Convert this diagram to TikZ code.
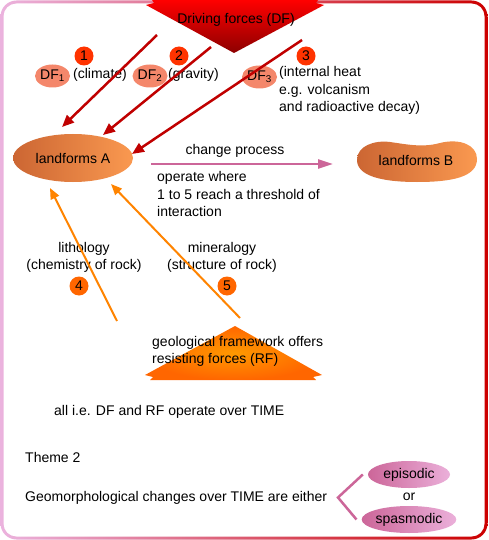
\documentclass[tikz,border=0pt]{standalone}
\usepackage{fontspec}
\setmainfont{Liberation Sans}
\usetikzlibrary{arrows.meta,shapes.geometric}

\definecolor{framepink}{HTML}{EBB3DE}
\definecolor{framered}{HTML}{CC0000}
\definecolor{dfred}{HTML}{C00000}
\definecolor{numred}{HTML}{FF3300}
\definecolor{numorange}{HTML}{FF6600}
\definecolor{dfsalmon}{HTML}{F4876B}
\definecolor{lfdark}{HTML}{CC6633}
\definecolor{lflight}{HTML}{FA9950}
\definecolor{rforange}{HTML}{FF8400}
\definecolor{procpink}{HTML}{CC6699}
\definecolor{timepink}{HTML}{EBB0DA}

\begin{document}
\begin{tikzpicture}[x=1pt,y=-1pt,
  font=\fontsize{14}{17.5}\selectfont,
  numdot/.style={circle,inner sep=0pt,minimum size=19pt},
  dfblob/.style={ellipse,fill=dfsalmon,inner sep=0pt,minimum width=35pt,minimum height=23pt},
  dfarrow/.style={color=dfred,line width=2.5pt,-{Triangle[length=12pt,width=10pt]}},
  rfarrow/.style={color=rforange,line width=2pt,-{Triangle[length=11pt,width=9pt]}},
  lblock/.style={anchor=west,align=left,inner sep=0pt},
  timeblob/.style={ellipse,left color=procpink,right color=timepink,inner sep=0pt,minimum width=82pt,minimum height=27pt}]
   \useasboundingbox (0,0) rectangle (488,540);

   % frame
   \shade[left color=framepink,right color=framered,rounded corners=16pt] (0.5,0.5) rectangle (487.5,539.5);
   \fill[white,rounded corners=13pt] (3.5,3.5) rectangle (484.5,536.5);

   % driving forces
   \shade[top color=red,bottom color=red!55!black]
      (152,0) -- (318,0) -- (316,3) -- (324,5) -- (234,53) -- (146,5) -- (154,3) -- cycle;
   \node (drv) at (236,20) {Driving forces (DF)};

   \node[numdot,fill=numred] (n1) at (84,56) {1};
   \node[numdot,fill=numred] (n2) at (179,56) {2};
   \node[numdot,fill=numred] (n3) at (306,56) {3};

   \node[dfblob] (df1) at (52.5,76) {DF\textsubscript{1}};
   \node[dfblob] (df2) at (150,76) {DF\textsubscript{2}};
   \node[dfblob] (df3) at (259.5,77) {DF\textsubscript{3}};
   \node[lblock] (clim) at (73,75) {(climate)};
   \node[lblock] (grav) at (168,75) {(gravity)};
   \node[lblock] (heat) at (279,90.5) {(internal heat\\e.g. volcanism\\and radioactive decay)};

   \coordinate (s1) at (157,35);
   \coordinate (t1) at (62,127);
   \coordinate (s2) at (211,47);
   \coordinate (t2) at (103,135);
   \coordinate (s3) at (302,40);
   \coordinate (t3) at (132,154);
   \draw[dfarrow] (s1) -- (t1);
   \draw[dfarrow] (s2) -- (t2);
   \draw[dfarrow] (s3) -- (t3);

   % landforms
   \node[ellipse,left color=lfdark,right color=lflight,inner sep=0pt,
         minimum width=120pt,minimum height=48pt] (la) at (73,158) {landforms A};
   \shade[left color=lfdark,right color=lflight]
      (357,160) .. controls (357,146) and (374,140) .. (390,142)
      .. controls (405,144) and (422,148) .. (440,143)
      .. controls (460,138) and (477,145) .. (477,159)
      .. controls (477,177) and (452,182) .. (417,182)
      .. controls (382,182) and (357,176) .. (357,160) -- cycle;
   \node (lb) at (416,160) {landforms B};

   \coordinate (cp) at (333,164);
   \draw[color=procpink,line width=2.5pt,-{Triangle[length=15pt,width=9pt]}]
      ([shift={(18pt,-6pt)}]la.east) -- (cp);
   \node (chg) at (235,151) {change process};
   \node[lblock] (oper) at (157,194) {operate where\\1 to 5 reach a threshold of\\interaction};

   % resisting forces
   \node[align=center,inner sep=0pt] (lith) at (84,257.5) {lithology\\(chemistry of rock)};
   \node[align=center,inner sep=0pt] (mine) at (222,257.5) {mineralogy\\(structure of rock)};
   \node[numdot,fill=numorange] (n4) at (79,286) {4};
   \node[numdot,fill=numorange] (n5) at (227,286) {5};

   \coordinate (s4) at (117,321);
   \coordinate (t4) at (50,188);
   \coordinate (s5) at (240,318);
   \coordinate (t5) at (111,184);
   \draw[rfarrow] (s4) -- (t4);
   \draw[rfarrow] (s5) -- (t5);

   \shade[inner color=orange!80!yellow,outer color=numorange]
      (235,326) -- (322,375) -- (313,377) -- (316,380) -- (150,380) -- (153,377) -- (145,375) -- cycle;
   \node[lblock] (geo) at (152,351.5) {geological framework offers\\resisting forces (RF)};

   \node[lblock] (all) at (54,412) {all i.e. DF and RF operate over TIME};

   % theme 2
   \node[lblock] (thm) at (25,457) {Theme 2};
   \node[lblock] (geom) at (25,498) {Geomorphological changes over TIME are either};
   \node[timeblob] (epi) at (409,474.5) {episodic};
   \node (or) at (409,497) {or};
   \node[timeblob] (spa) at (409,519.5) {spasmodic};
   \coordinate (brk) at (338,497.5);
   \draw[color=procpink,line width=2.5pt] ([xshift=-5pt]epi.west) -- (brk) -- ([xshift=-5pt]spa.west);
\end{tikzpicture}
\end{document}
